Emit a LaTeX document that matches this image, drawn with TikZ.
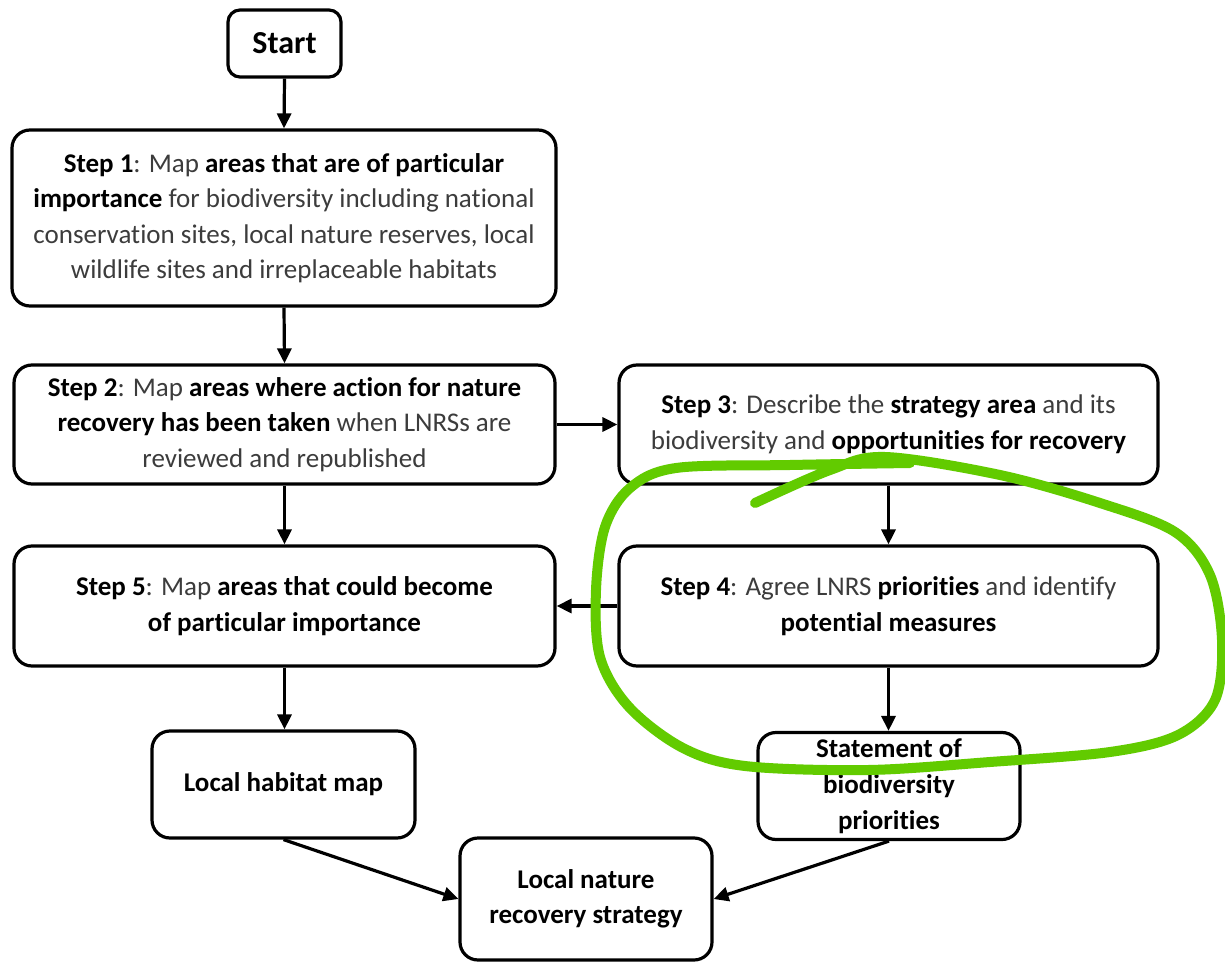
\documentclass[tikz,border=0pt]{standalone}
\usepackage{fontspec}
\setmainfont{Carlito}[Ligatures=NoCommon]
\usetikzlibrary{arrows.meta}
\definecolor{txt}{HTML}{3C3C3C}
\definecolor{hand}{HTML}{62CB00}
\newcommand\bk[1]{\textbf{\color{black}#1}}
\begin{document}
\begin{tikzpicture}[x=1pt,y=-1pt,
  box/.style={draw=black, line width=3.2pt, rounded corners=18pt, fill=white, align=center,
    font=\fontsize{27}{35.5}\selectfont, text=txt, inner sep=2pt},
  arr/.style={-{Triangle[length=15pt,width=14pt]}, line width=3.2pt},
]
\useasboundingbox (0,0) rectangle (1225,965);
\fill[white] (0,0) rectangle (1225,965);

\node[box, rounded corners=12pt, minimum width=113pt, minimum height=67pt,
  font=\fontsize{32}{38}\selectfont\bfseries, text=black] (start) at (284.5,43.5) {Start};
\node[box, minimum width=544pt, minimum height=176pt] (step1) at (284,218)
  {\bk{Step 1}: Map \bk{areas that are of particular}\\ \bk{importance} for biodiversity including national\\ conservation sites, local nature reserves, local\\ wildlife sites and irreplaceable habitats};
\node[box, minimum width=541pt, minimum height=119pt] (step2) at (284.5,424.5)
  {\bk{Step 2}: Map \bk{areas where action for nature}\\ \bk{recovery has been taken} when LNRSs are\\ reviewed and republished};
\node[box, minimum width=539pt, minimum height=119pt] (step3) at (888.5,424.5)
  {\bk{Step 3}: Describe the \bk{strategy area} and its\\ biodiversity and \bk{opportunities for recovery}};
\node[box, minimum width=541pt, minimum height=120pt] (step5) at (284.5,606)
  {\bk{Step 5}: Map \bk{areas that could become}\\ \bk{of particular importance}};
\node[box, minimum width=539pt, minimum height=120pt] (step4) at (888.5,606)
  {\bk{Step 4}: Agree LNRS \bk{priorities} and identify\\ \bk{potential measures}};
\node[box, minimum width=263pt, minimum height=107pt, text=black, font=\fontsize{27}{35.5}\selectfont\bfseries] (habitat) at (283.5,784.5)
  {Local habitat map};
\node[box, minimum width=262pt, minimum height=107pt, text=black, font=\fontsize{27}{36}\selectfont\bfseries] (statement) at (889,786)
  {Statement of\\ biodiversity\\ priorities};
\node[box, minimum width=252pt, minimum height=122pt, text=black, font=\fontsize{27}{35.5}\selectfont\bfseries] (lnrs) at (586,899)
  {Local nature\\ recovery strategy};

\draw[arr] (start.south) -- (step1.north);
\draw[arr] (step1.south) -- (step2.north);
\draw[arr] (step2.east) -- (step3.west);
\draw[arr] (step2.south) -- (step5.north);
\draw[arr] (step3.south) -- (step4.north);
\draw[arr] (step4.west) -- (step5.east);
\draw[arr] (step5.south) -- (step5.south |- habitat.north);
\draw[arr] (step4.south) -- (step4.south |- statement.north);
\draw[arr] (habitat.south) -- (lnrs.west);
\draw[arr] (statement.south) -- (lnrs.east);

\draw[hand, line width=10pt, line cap=round, line join=round]
  plot[smooth, tension=0.55] coordinates {
  (755,503) (830,470) (885,457) (1000,475) (1100,503) (1175,532) (1210,575)
  (1222,640) (1215,700) (1178,735) (1110,752) (990,762) (868,770) (745,766)
  (683,748) (629,707) (600,657) (596,590) (605,527) (630,488) (676,468)
  (790,465) (910,463)};
\end{tikzpicture}
\end{document}
